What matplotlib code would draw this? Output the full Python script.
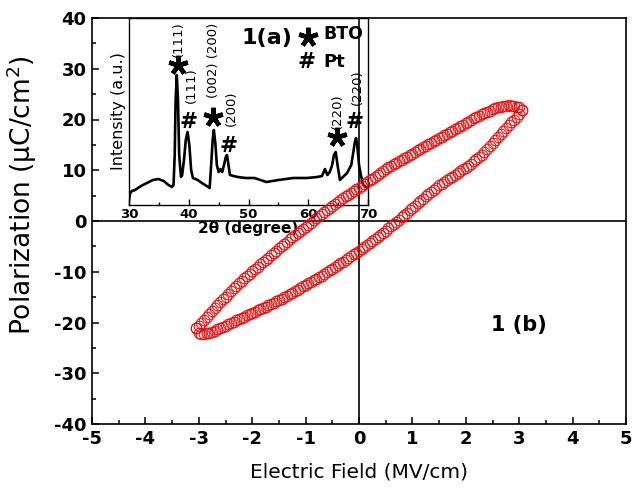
import matplotlib
matplotlib.use("Agg")
import matplotlib.pyplot as plt
from matplotlib.ticker import MultipleLocator

plt.rcParams['font.family'] = ['DejaVu Sans']
plt.rcParams['mathtext.fontset'] = 'dejavusans'
plt.rcParams['axes.unicode_minus'] = False

# ---- P-E hysteresis loop ----
E_up = [-3.05, -3.0, -2.95, -2.9, -2.85, -2.8, -2.75, -2.7, -2.65, -2.6, -2.55, -2.5, -2.45, -2.4,
        -2.35, -2.3, -2.25, -2.2, -2.15, -2.1, -2.05, -2.0, -1.95, -1.9, -1.85, -1.8, -1.75, -1.7,
        -1.65, -1.6, -1.55, -1.5, -1.45, -1.4, -1.35, -1.3, -1.25, -1.2, -1.15, -1.1, -1.05, -1.0,
        -0.95, -0.9, -0.85, -0.8, -0.75, -0.7, -0.65, -0.6, -0.55, -0.5, -0.45, -0.4, -0.35, -0.3,
        -0.25, -0.2, -0.15, -0.1, -0.05, 0.0, 0.05, 0.1, 0.15, 0.2, 0.25, 0.3, 0.35, 0.4, 0.45,
        0.5, 0.55, 0.6, 0.65, 0.7, 0.75, 0.8, 0.85, 0.9, 0.95, 1.0, 1.05, 1.1, 1.15, 1.2, 1.25,
        1.3, 1.35, 1.4, 1.45, 1.5, 1.55, 1.6, 1.65, 1.7, 1.75, 1.8, 1.85, 1.9, 1.95, 2.0, 2.05,
        2.1, 2.15, 2.2, 2.25, 2.3, 2.35, 2.4, 2.45, 2.5, 2.55, 2.6, 2.65, 2.7, 2.75, 2.8, 2.85,
        2.9, 2.95, 3.0, 3.05]
P_up = [-21.0, -20.6, -20.05, -19.5, -18.95, -18.4, -17.8, -17.2, -16.6, -16.0, -15.45, -14.9, -14.35, -13.8,
        -13.3, -12.8, -12.3, -11.8, -11.3, -10.8, -10.35, -9.9, -9.45, -9.0, -8.55, -8.1, -7.65, -7.2,
        -6.75, -6.3, -5.85, -5.4, -4.95, -4.5, -4.05, -3.6, -3.2, -2.8, -2.4, -2.0, -1.55, -1.1,
        -0.7, -0.3, 0.15, 0.6, 1.0, 1.4, 1.8, 2.2, 2.6, 3.0, 3.4, 3.8, 4.15, 4.5,
        4.85, 5.2, 5.55, 5.9, 6.25, 6.6, 6.95, 7.3, 7.65, 8.0, 8.35, 8.7, 9.05, 9.4, 9.8,
        10.2, 10.55, 10.9, 11.2, 11.5, 11.8, 12.1, 12.4, 12.7, 13.0, 13.3, 13.6, 13.9, 14.2, 14.5, 14.8,
        15.1, 15.4, 15.7, 16.0, 16.3, 16.6, 16.9, 17.2, 17.5, 17.8, 18.1, 18.4, 18.7, 19.0, 19.3, 19.6,
        19.9, 20.2, 20.5, 20.75, 21.0, 21.25, 21.5, 21.75, 22.0, 22.2, 22.4, 22.55, 22.7, 22.75, 22.8, 22.75,
        22.7, 22.55, 22.4, 21.8]
E_down = [3.05, 3.0, 2.95, 2.9, 2.85, 2.8, 2.75, 2.7, 2.65, 2.6, 2.55, 2.5, 2.45, 2.4, 2.35, 2.3,
          2.25, 2.2, 2.15, 2.1, 2.05, 2.0, 1.95, 1.9, 1.85, 1.8, 1.75, 1.7, 1.65, 1.6, 1.55, 1.5,
          1.45, 1.4, 1.35, 1.3, 1.25, 1.2, 1.15, 1.1, 1.05, 1.0, 0.95, 0.9, 0.85, 0.8, 0.75, 0.7,
          0.65, 0.6, 0.55, 0.5, 0.45, 0.4, 0.35, 0.3, 0.25, 0.2, 0.15, 0.1, 0.05, 0.0, -0.05, -0.1,
          -0.15, -0.2, -0.25, -0.3, -0.35, -0.4, -0.45, -0.5, -0.55, -0.6, -0.65, -0.7, -0.75, -0.8,
          -0.85, -0.9, -0.95, -1.0, -1.05, -1.1, -1.15, -1.2, -1.25, -1.3, -1.35, -1.4, -1.45, -1.5,
          -1.55, -1.6, -1.65, -1.7, -1.75, -1.8, -1.85, -1.9, -1.95, -2.0, -2.05, -2.1, -2.15, -2.2,
          -2.25, -2.3, -2.35, -2.4, -2.45, -2.5, -2.55, -2.6, -2.65, -2.7, -2.75, -2.8, -2.85, -2.9,
          -2.95, -3.0, -3.05]
P_down = [21.8, 21.0, 20.5, 20.0, 19.45, 18.9, 18.35, 17.8, 17.2, 16.6, 15.95, 15.3, 14.7, 14.1, 13.6, 13.1,
          12.65, 12.2, 11.75, 11.3, 10.9, 10.5, 10.15, 9.8, 9.45, 9.1, 8.75, 8.4, 8.05, 7.7, 7.35, 7.0,
          6.6, 6.2, 5.75, 5.3, 4.85, 4.4, 3.95, 3.5, 3.05, 2.6, 2.1, 1.6, 1.15, 0.7, 0.25, -0.2,
          -0.6, -1.0, -1.45, -1.9, -2.3, -2.7, -3.1, -3.5, -3.9, -4.3, -4.7, -5.1, -5.5, -5.9, -6.25, -6.6,
          -6.95, -7.3, -7.65, -8.0, -8.35, -8.7, -9.05, -9.4, -9.75, -10.1, -10.45, -10.8, -11.1, -11.4,
          -11.7, -12.0, -12.3, -12.6, -12.9, -13.2, -13.5, -13.8, -14.1, -14.4, -14.7, -15.0, -15.3, -15.6,
          -15.85, -16.1, -16.35, -16.6, -16.85, -17.1, -17.35, -17.6, -17.85, -18.1, -18.35, -18.6, -18.85, -19.1,
          -19.35, -19.6, -19.85, -20.1, -20.35, -20.6, -20.85, -21.1, -21.35, -21.6, -21.8, -22.0, -22.15, -22.3,
          -22.2, -22.0, -21.0]

x_ticks = [-5, -4, -3, -2, -1, 0, 1, 2, 3, 4, 5]
y_ticks = [-40, -30, -20, -10, 0, 10, 20, 30, 40]

# ---- XRD inset (arbitrary units) ----
two_theta = [30.0, 30.2, 30.5, 31.0, 32.0, 33.0, 34.0, 34.9, 35.8, 36.6, 37.2, 37.45, 37.65, 37.8,
             38.0, 38.2, 38.4, 38.7, 38.9, 39.2, 39.5, 39.8, 40.1, 40.4, 40.7, 41.5, 42.2, 43.0,
             43.5, 43.75, 44.0, 44.2, 44.45, 44.7, 45.0, 45.3, 45.6, 45.9, 46.2, 46.4, 46.6, 46.9,
             47.5, 48.2, 49.5, 51.0, 53.0, 55.0, 57.5, 59.8, 61.5, 62.3, 62.8, 63.2, 63.6, 64.0,
             64.3, 64.6, 64.9, 65.3, 65.8, 66.5, 67.2, 67.6, 67.8, 68.0, 68.2, 68.5, 68.8, 69.2,
             69.6, 70.0]
intensity = [5, 12, 14, 15, 19, 22, 25, 26, 24, 20, 18, 20, 50, 105,
             130, 105, 50, 28, 30, 45, 65, 73, 60, 35, 27, 25, 22, 19,
             17, 40, 65, 75, 62, 40, 33, 36, 33, 40, 48, 50, 42, 30,
             29, 28, 27, 27, 23, 25, 27, 27, 28, 29, 36, 30, 33, 40,
             50, 53, 40, 25, 28, 32, 40, 55, 63, 67, 60, 40, 30, 20,
             18, 17]
inset_xticks = [30, 40, 50, 60, 70]

bto_star_pos = [(38.2, 140), (44.06, 88), (64.8, 68)]
pt_hash_pos = [(39.9, 83), (46.6, 59), (67.8, 83)]
hkl_labels = [("(111)", 38.2, 166), ("(111)", 40.5, 120), ("(002) (200)", 44.1, 145),
              ("(200)", 47.1, 97), ("(220)", 64.8, 94), ("(220)", 68.3, 118)]

W, H = 633, 495
fig = plt.figure(figsize=(W / 100, H / 100), dpi=100)

ax = fig.add_axes([92 / W, 1 - 424 / H, (626 - 92) / W, (424 - 18) / H], zorder=1)
axi = fig.add_axes([129 / W, 1 - 205 / H, (368 - 129) / W, (205 - 18) / H], zorder=0)
ax.patch.set_visible(False)
axi.patch.set_visible(False)

# main plot
ax.axhline(0, color='k', lw=1.2, zorder=1)
ax.axvline(0, color='k', lw=1.2, zorder=1)
ax.plot(E_up, P_up, 'o', mfc='none', mec='red', ms=7.6, mew=0.7, zorder=3)
ax.plot(E_down, P_down, 'o', mfc='none', mec='red', ms=7.6, mew=0.7, zorder=3)
ax.set_xlim(-5, 5)
ax.set_ylim(-40, 40)
ax.set_xticks(x_ticks)
ax.set_yticks(y_ticks)
ax.xaxis.set_minor_locator(MultipleLocator(0.5))
ax.yaxis.set_minor_locator(MultipleLocator(5))
ax.tick_params(which='both', direction='in', top=False, right=False, width=1.1)
ax.tick_params(which='major', length=5, labelsize=13, pad=4)
ax.tick_params(which='minor', length=3)
for lab in ax.get_xticklabels() + ax.get_yticklabels():
    lab.set_fontweight('bold')
for s in ax.spines.values():
    s.set_linewidth(1.2)
ax.set_xlabel('Electric Field (MV/cm)', fontsize=14.5, labelpad=11)
ax.set_ylabel('Polarization (μC/cm$^{2}$)', fontsize=19)
ax.yaxis.set_label_coords(-0.1, 0.565)
ax.text(3.0, -20.5, '1 (b)', fontsize=15, fontweight='bold', ha='center', va='center')

# inset
axi.plot(two_theta, intensity, color='k', lw=1.9)
axi.set_xlim(30, 70)
axi.set_ylim(0, 187)
axi.set_xticks(inset_xticks)
axi.xaxis.set_minor_locator(MultipleLocator(5))
axi.set_yticks([])
axi.tick_params(which='both', direction='in', width=1.0)
axi.tick_params(which='major', length=4, labelsize=9.5, pad=2)
axi.tick_params(which='minor', length=2.5)
for lab in axi.get_xticklabels():
    lab.set_fontweight('bold')
for s in axi.spines.values():
    s.set_linewidth(1.0)
axi.set_xlabel('2θ (degree)', fontsize=11, fontweight='bold', labelpad=0)
axi.set_ylabel('Intensity (a.u.)', fontsize=11.5, labelpad=2)

for (xx, yy) in bto_star_pos:
    axi.plot([xx], [yy], marker=(5, 2, 0), ms=14, mew=3.2, color='k', clip_on=False)
for (xx, yy) in pt_hash_pos:
    axi.text(xx, yy, '#', fontsize=15.5, fontweight='bold', ha='center', va='center')
for (t, xx, yy) in hkl_labels:
    axi.text(xx, yy, t, fontsize=9.5, rotation=90, ha='center', va='center')

axi.text(53.1, 167, '1(a)', fontsize=16, fontweight='bold', ha='center', va='center')
axi.plot([60.0], [168], marker=(5, 2, 0), ms=14, mew=3.2, color='k')
axi.text(65.8, 171, 'BTO', fontsize=12.5, fontweight='bold', ha='center', va='center')
axi.text(59.8, 143, '#', fontsize=15.5, fontweight='bold', ha='center', va='center')
axi.text(64.3, 143, 'Pt', fontsize=13, fontweight='bold', ha='center', va='center')

fig.savefig('out.png', dpi=100)
